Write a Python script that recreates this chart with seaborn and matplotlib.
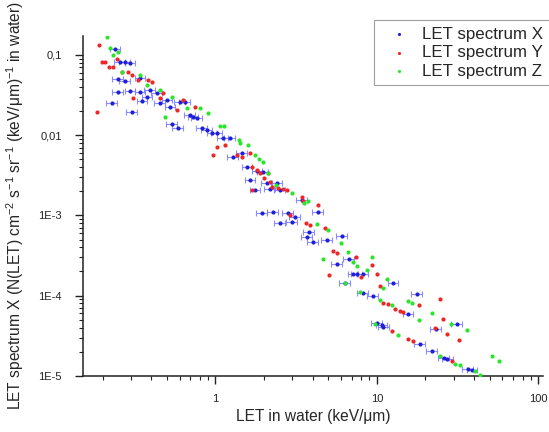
import numpy as np
import pandas as pd
import seaborn as sns
import matplotlib
matplotlib.use('Agg')
import matplotlib.pyplot as plt
from matplotlib.ticker import LogLocator, NullFormatter

# LET in water (keV/um) and N(LET) for each spectrum
x_let = [0.239, 0.256, 0.275, 0.296, 0.249, 0.275, 0.341, 0.249, 0.296, 0.228,
         0.304, 0.341, 0.377, 0.351, 0.393, 0.434, 0.453, 0.501, 0.523, 0.603,
         0.647, 0.538, 0.586, 0.695, 0.726, 0.768, 0.825, 0.886, 0.952, 1.02,
         1.11, 1.23, 1.28, 1.46, 1.57, 1.81, 1.97, 1.64, 2.08, 2.40,
         1.76, 2.17, 2.51, 3.43, 1.94, 2.27, 2.81, 4.31, 2.51, 2.97,
         3.11, 3.79, 3.69, 4.02, 4.90, 6.06, 5.65, 6.70, 7.52, 8.19,
         7.13, 12.6, 6.34, 9.46, 8.19, 15.6, 17.7, 10.0, 10.7, 11.0,
         18.5, 21.9, 26.0, 27.4, 31.2, 36.6, 38.9, 23.2]
x_flux = [0.119, 0.0818, 0.0818, 0.0794, 0.0501, 0.0473, 0.0516, 0.0345, 0.0355, 0.0251,
          0.0194, 0.0345, 0.0299, 0.0266, 0.0365, 0.0335, 0.0251, 0.0274, 0.0224, 0.0259,
          0.0259, 0.0137, 0.0122, 0.0178, 0.0168, 0.0163, 0.0122, 0.0115, 0.0106, 0.0106,
          0.00917, 0.00917, 0.00531, 0.00596, 0.00398, 0.00355, 0.00345, 0.00274, 0.00251, 0.00251,
          0.00205, 0.00211, 0.00205, 0.00154, 0.00106, 0.00109, 0.00106, 0.00109, 0.000794, 0.000818,
          0.000944, 0.000613, 0.000531, 0.00046, 0.000487, 0.000546, 0.000251, 0.000282, 0.000188, 0.000188,
          0.000188, 0.000145, 0.000145, 0.0001, 0.000109, 5.96e-5, 0.000106, 4.6e-5, 4.34e-5, 4.1e-5,
          2.51e-5, 2.05e-5, 1.68e-5, 1.63e-5, 4.47e-5, 1.22e-5, 1.19e-5, 3.87e-5]

y_let = [0.185, 0.190, 0.198, 0.207, 0.219, 0.232, 0.246, 0.264, 0.287, 0.308,
         0.304, 0.331, 0.382, 0.405, 0.453, 0.473, 0.578, 0.629, 0.746, 0.965,
         1.02, 1.15, 1.36, 1.46, 1.68, 1.89, 2.11, 2.17, 1.68, 2.44,
         2.77, 3.43, 1.64, 1.81, 1.99, 2.24, 2.62, 3.48, 4.31, 2.89,
         3.63, 3.85, 4.77, 5.34, 5.65, 7.42, 9.34, 9.98, 5.04, 7.95,
         10.4, 11.0, 11.7, 12.9, 13.9, 14.5, 12.4, 15.6, 16.7, 18.2,
         24.5, 25.6, 22.9, 27.1, 32.2, 29.2]
y_flux = [0.0194, 0.133, 0.0818, 0.0818, 0.0708, 0.0708, 0.0891, 0.0613, 0.0613, 0.029,
          0.0562, 0.0487, 0.0487, 0.046, 0.029, 0.0335, 0.0205, 0.0274, 0.0224, 0.00562,
          0.00708, 0.0075, 0.00562, 0.00531, 0.00398, 0.00335, 0.00335, 0.00259, 0.00205, 0.00218,
          0.00205, 0.00168, 0.006, 0.00365, 0.0029, 0.00224, 0.00211, 0.0015, 0.00133, 0.001,
          0.000794, 0.00075, 0.000688, 0.000365, 0.000335, 0.000307, 0.000244, 0.000188, 0.000183, 0.000173,
          0.00013, 8.18e-5, 7.94e-5, 6.88e-5, 6.49e-5, 6.3e-5, 3.65e-5, 2.9e-5, 2.74e-5, 7.72e-5,
          9.17e-5, 5.16e-5, 3.98e-5, 3.35e-5, 2.82e-5, 1.54e-5]

z_let = [0.212, 0.222, 0.232, 0.249, 0.264, 0.341, 0.377, 0.453, 0.487, 0.538,
         0.666, 0.802, 0.899, 1.07, 1.13, 1.42, 1.59, 1.76, 1.97, 2.11,
         1.40, 1.85, 2.38, 2.97, 3.53, 3.74, 4.25, 4.97, 5.98, 4.63,
         6.60, 7.52, 9.34, 8.66, 6.34, 11.5, 10.9, 15.6, 16.5, 7.85,
         10.4, 12.4, 18.2, 21.9, 9.72, 13.6, 28.7, 36.0, 24.5, 30.5,
         32.7, 40.5, 43.5, 51.5, 56.9, 7.13]
z_flux = [0.168, 0.122, 0.1, 0.109, 0.0613, 0.0562, 0.0422, 0.0365, 0.0168, 0.0299,
          0.0218, 0.0218, 0.0188, 0.013, 0.013, 0.00794, 0.0075, 0.00562, 0.0046, 0.00335,
          0.0088, 0.0051, 0.00237, 0.00188, 0.00141, 0.0015, 0.000772, 0.000649, 0.000447, 0.00029,
          0.000345, 0.000237, 0.000299, 0.000211, 0.000145, 0.000163, 0.000126, 8.66e-5, 8.18e-5, 0.000112,
          8.91e-5, 7.72e-5, 5.01e-5, 6.13e-5, 4.47e-5, 3.25e-5, 4.47e-5, 3.76e-5, 1.78e-5, 1.41e-5,
          1.37e-5, 1.15e-5, 1.03e-5, 1.78e-5, 1.54e-5, 0.000259]

x_err_frac = 0.075  # relative LET uncertainty on spectrum X

y_ticks = [1e-5, 1e-4, 1e-3, 1e-2, 1e-1]
y_tick_labels = ['1E-5', '1E-4', '1E-3', '0,01', '0,1']
x_ticks = [1, 10, 100]
x_tick_labels = ['1', '10', '100']

sns.set_style('ticks')
plt.rcParams['font.family'] = ['Liberation Sans', 'DejaVu Sans']
plt.rcParams['mathtext.default'] = 'regular'

fig = plt.figure(figsize=(5.49, 4.32), dpi=100)
ax = fig.add_axes([0.151, 0.13, 0.838, 0.787])

bx = np.array(x_let)
ax.errorbar(bx, x_flux, xerr=bx * x_err_frac, fmt='none', ecolor='#7a7aff',
            elinewidth=0.8, capsize=2.2, capthick=0.8, alpha=0.85, zorder=2)
sns.scatterplot(x=x_let, y=x_flux, ax=ax, color='#1f1fd8', marker='o', s=9,
                linewidth=0, label='LET spectrum X', zorder=3)
sns.scatterplot(x=y_let, y=y_flux, ax=ax, color='#ee2626', marker='o', s=9,
                linewidth=0, label='LET spectrum Y', zorder=4)
sns.scatterplot(x=z_let, y=z_flux, ax=ax, color='#2ae62a', marker='o', s=9,
                linewidth=0, label='LET spectrum Z', zorder=5)

ax.set_xscale('log')
ax.set_yscale('log')
ax.set_xlim(0.151, 107)
ax.set_ylim(1e-5, 0.173)
ax.set_xticks(x_ticks)
ax.set_xticklabels(x_tick_labels)
ax.set_yticks(y_ticks)
ax.set_yticklabels(y_tick_labels)
ax.xaxis.set_minor_locator(LogLocator(base=10, subs=np.arange(2, 10)))
ax.yaxis.set_minor_locator(LogLocator(base=10, subs=np.arange(2, 10)))
ax.xaxis.set_minor_formatter(NullFormatter())
ax.yaxis.set_minor_formatter(NullFormatter())
ax.tick_params(which='major', direction='out', length=6, width=1, labelsize=8,
               colors='#222222')
ax.tick_params(axis='y', which='major', pad=9)
ax.tick_params(axis='x', which='major', pad=7)
ax.tick_params(which='minor', direction='out', length=3, width=0.8, colors='#222222')
sns.despine(ax=ax)
for sp in ['left', 'bottom']:
    ax.spines[sp].set_linewidth(1.1)
    ax.spines[sp].set_color('#222222')

ax.set_xlabel('LET in water (keV/μm)', fontsize=11.2, labelpad=4)
ax.set_ylabel('LET spectrum X (N(LET) cm$^{-2}$ s$^{-1}$ sr$^{-1}$ (keV/μm)$^{-1}$ in water)',
              fontsize=11.2, labelpad=9)

leg = ax.legend(loc='upper left', bbox_to_anchor=(374 / 549, 1 - 20 / 432),
                bbox_transform=fig.transFigure, fontsize=12.2, frameon=True,
                fancybox=False, edgecolor='#888888', handletextpad=0.25,
                labelspacing=0.2, borderpad=0.4, markerscale=0.75, handlelength=2.2,
                borderaxespad=0)
leg.get_frame().set_linewidth(0.8)

fig.savefig('out.png', dpi=100)
